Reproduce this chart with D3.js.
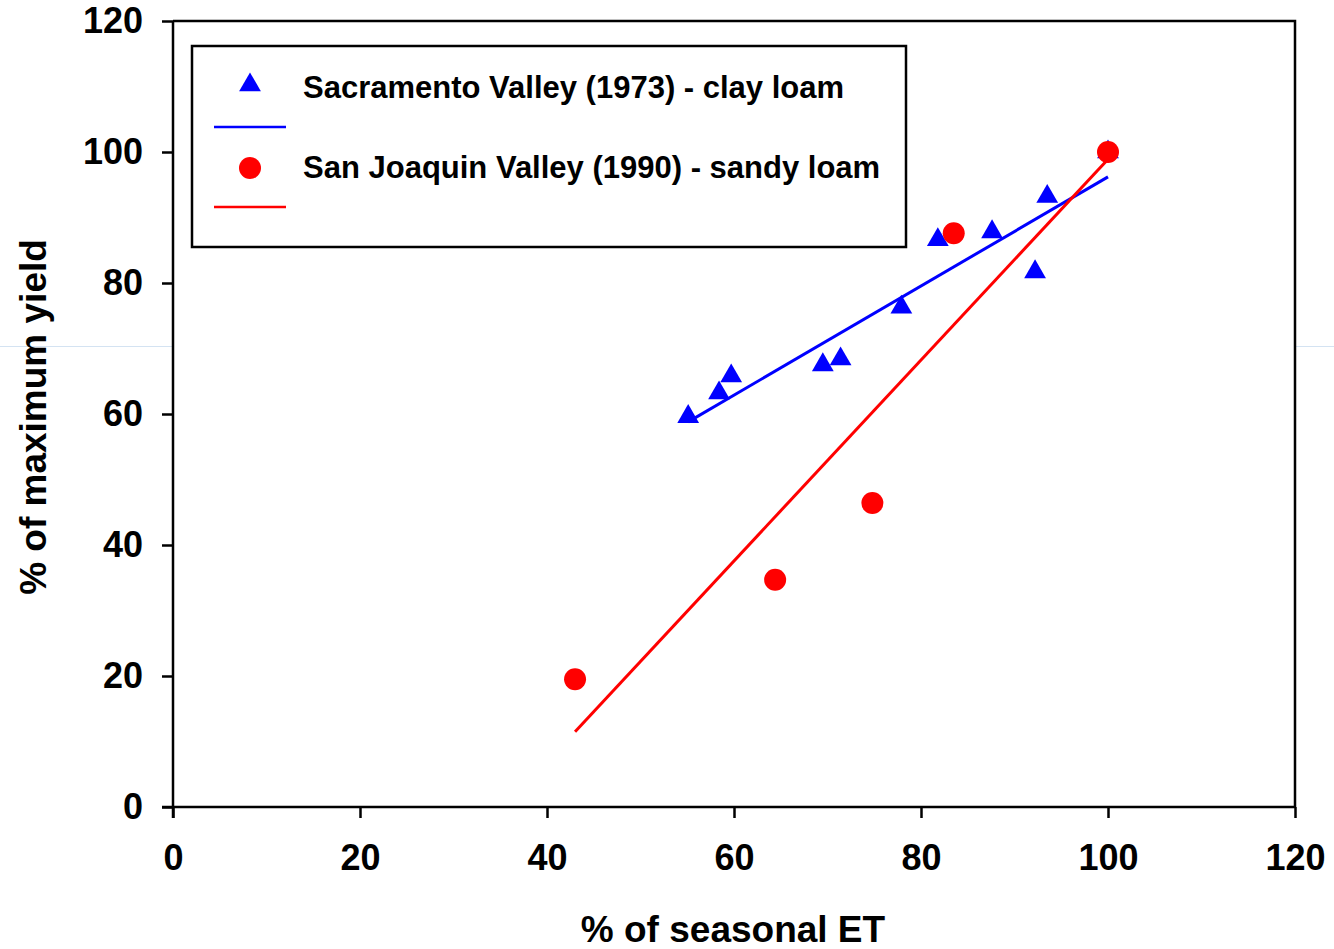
<!DOCTYPE html>
<html>
<head>
<meta charset="utf-8">
<script src="https://cdnjs.cloudflare.com/ajax/libs/d3/7.8.5/d3.min.js"></script>
<style>
  html, body { margin: 0; padding: 0; background: #fff; }
  svg { display: block; }
  text { font-family: "Liberation Sans", Arial, Helvetica, sans-serif; font-weight: bold; fill: #000; }
</style>
</head>
<body>
<script>
// Sacramento Valley (1973), clay loam: seasonal ET (%) vs yield (% of max)
const sacET    = [55.1, 58.4, 59.7, 69.5, 71.4, 77.9, 81.8, 87.6, 92.2, 93.5, 100];
const sacYield = [59.6, 63.2, 65.8, 67.5, 68.4, 76.3, 86.6, 87.8, 81.7, 93.2, 100];

// San Joaquin Valley (1990), sandy loam
const sjvET    = [43.0, 64.4, 74.8, 83.5, 100];
const sjvYield = [19.5, 34.7, 46.4, 87.6, 100];

// Fitted regression lines (end points)
const sacFitET    = [55.1, 100];
const sacFitYield = [58.8, 96.2];
const sjvFitET    = [43.0, 100];
const sjvFitYield = [11.5, 98.9];

const xTicks = [0, 20, 40, 60, 80, 100, 120];
const yTicks = [0, 20, 40, 60, 80, 100, 120];

const legendLabels = [
  "Sacramento Valley (1973) - clay loam",
  "San Joaquin Valley (1990) - sandy loam"
];

const W = 1334, H = 949;
const svg = d3.select("body").append("svg").attr("width", W).attr("height", H);

const x = d3.scaleLinear().domain([0, 120]).range([173, 1295]);
const y = d3.scaleLinear().domain([0, 120]).range([807, 21]);

// thin pale rule running out from the frame on both sides
svg.append("line").attr("x1", 0).attr("x2", x(0)).attr("y1", 346.5).attr("y2", 346.5)
  .attr("stroke", "#d4e3f2").attr("stroke-width", 1);
svg.append("line").attr("x1", x(120)).attr("x2", W).attr("y1", 346.5).attr("y2", 346.5)
  .attr("stroke", "#d4e3f2").attr("stroke-width", 1);

// frame (top and right)
svg.append("path")
  .attr("d", `M${x(0)},${y(120)}H${x(120)}V${y(0)}`)
  .attr("fill", "none").attr("stroke", "#000").attr("stroke-width", 2.5);

// axes
const xAxis = svg.append("g").attr("transform", `translate(0,${y(0)})`)
  .call(d3.axisBottom(x).tickValues(xTicks).tickSize(11).tickPadding(26).tickSizeOuter(0));
const yAxis = svg.append("g").attr("transform", `translate(${x(0)},0)`)
  .call(d3.axisLeft(y).tickValues(yTicks).tickSize(11).tickPadding(19).tickSizeOuter(0));

[xAxis, yAxis].forEach(g => {
  g.select(".domain").attr("stroke", "#000").attr("stroke-width", 2.5);
  g.selectAll(".tick line").attr("stroke", "#000").attr("stroke-width", 2.5);
  g.selectAll(".tick text").style("font-size", "36px")
    .style("font-family", "'Liberation Sans', Arial, sans-serif").style("font-weight", "bold").attr("fill", "#000");
});
// extend axis lines so the 0 ticks meet at the corner
xAxis.select(".domain").attr("d", `M${x(0) - 11},0H${x(120)}`);
yAxis.select(".domain").attr("d", `M0,${y(120)}V${y(0) + 11}`);

// axis titles
svg.append("text").attr("x", 733).attr("y", 942).attr("text-anchor", "middle")
  .style("font-size", "37px").text("% of seasonal ET");
svg.append("text").attr("transform", "translate(46,417) rotate(-90)").attr("text-anchor", "middle")
  .style("font-size", "37px").text("% of maximum yield");

const blue = "#0000ff", red = "#ff0000";
const tri = d3.symbol().type(d3.symbolTriangle).size(205);

// Sacramento points and fit
svg.append("g").selectAll("path").data(d3.zip(sacET, sacYield)).join("path")
  .attr("d", tri).attr("transform", d => `translate(${x(d[0])},${y(d[1])})`).attr("fill", blue);
svg.append("line")
  .attr("x1", x(sacFitET[0])).attr("y1", y(sacFitYield[0]))
  .attr("x2", x(sacFitET[1])).attr("y2", y(sacFitYield[1]))
  .attr("stroke", blue).attr("stroke-width", 3);

// San Joaquin points and fit
svg.append("g").selectAll("circle").data(d3.zip(sjvET, sjvYield)).join("circle")
  .attr("cx", d => x(d[0])).attr("cy", d => y(d[1])).attr("r", 11).attr("fill", red);
svg.append("line")
  .attr("x1", x(sjvFitET[0])).attr("y1", y(sjvFitYield[0]))
  .attr("x2", x(sjvFitET[1])).attr("y2", y(sjvFitYield[1]))
  .attr("stroke", red).attr("stroke-width", 3);

// legend
const lg = svg.append("g");
lg.append("rect").attr("x", 192).attr("y", 46).attr("width", 714).attr("height", 201)
  .attr("fill", "#fff").attr("stroke", "#000").attr("stroke-width", 2.5);
lg.append("path").attr("d", tri).attr("transform", "translate(250,85)").attr("fill", blue);
lg.append("line").attr("x1", 214).attr("x2", 286).attr("y1", 127).attr("y2", 127)
  .attr("stroke", blue).attr("stroke-width", 2.7);
lg.append("circle").attr("cx", 250).attr("cy", 168).attr("r", 11).attr("fill", red);
lg.append("line").attr("x1", 214).attr("x2", 286).attr("y1", 207).attr("y2", 207)
  .attr("stroke", red).attr("stroke-width", 2.7);
lg.append("text").attr("x", 303).attr("y", 98).style("font-size", "31px").text(legendLabels[0]);
lg.append("text").attr("x", 303).attr("y", 178).style("font-size", "31px").text(legendLabels[1]);
</script>
</body>
</html>
